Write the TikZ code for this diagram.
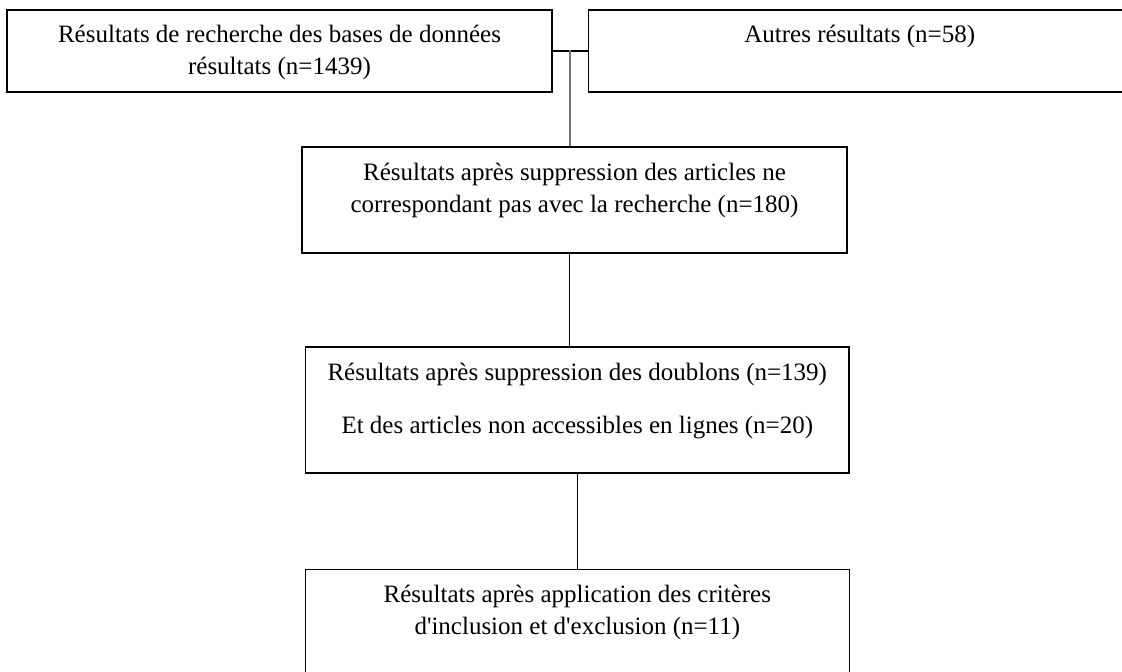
\documentclass[tikz,border=0pt]{standalone}
\usepackage{fontspec}
\setmainfont{Liberation Serif}
\usetikzlibrary{positioning}
\tikzset{
  resbox/.style  = {shape=rectangle, %rounded corners,
                    draw, align=center, line width=0.6pt,
                    inner sep=0pt, minimum width=272.5pt,
                    text height=0pt, text depth=0pt,
                    font=\fontsize{12.5}{16}\selectfont},
  link/.style    = {draw, line width=0.6pt},
  greylink/.style = {draw=gray!90!black, line width=1pt}
}

\begin{document}
\begin{tikzpicture}
  [
  x = 0.5pt,
  y = -0.5pt,
  %every node/.style = {font = \footnotesize},
  ]
  \useasboundingbox (0,0) rectangle (1122,671);

  \node[resbox, minimum height=41pt, text height=23pt] (search) at (279.5,51)
    {Résultats de recherche des bases de données\\résultats (n=1439)};
  \node[resbox, minimum width=271.5pt, minimum height=41pt, text height=9pt, text depth=18pt,
        right=17.5pt of search] (other)
    {Autres résultats (n=58)};
  \node[resbox, minimum height=53pt, text height=12pt] (relevant) at (574.5,200)
    {Résultats après suppression des articles ne\\correspondant pas avec la recherche (n=180)};
  \node[resbox, minimum width=271.75pt, minimum height=63pt, text height=23pt] (dedup) at (577.3,410)
    {Résultats après suppression des doublons (n=139)\\[10.5pt]Et des articles non accessibles en lignes (n=20)};
  \node[resbox, minimum width=272pt, minimum height=70pt, text depth=5pt,
        below=47.5pt of dedup] (final)
    {Résultats après application des critères\\d\textquotesingle inclusion et d\textquotesingle exclusion (n=11)};

  \coordinate (join) at (569.5,50);
  \draw[link] (search) -- (other);
  \draw[greylink] (join) -- (join |- relevant.north);
  \draw[link] (relevant.south -| join) -- (dedup.north -| join);
  \draw[link] (dedup) -- (final);
\end{tikzpicture}
\end{document}
